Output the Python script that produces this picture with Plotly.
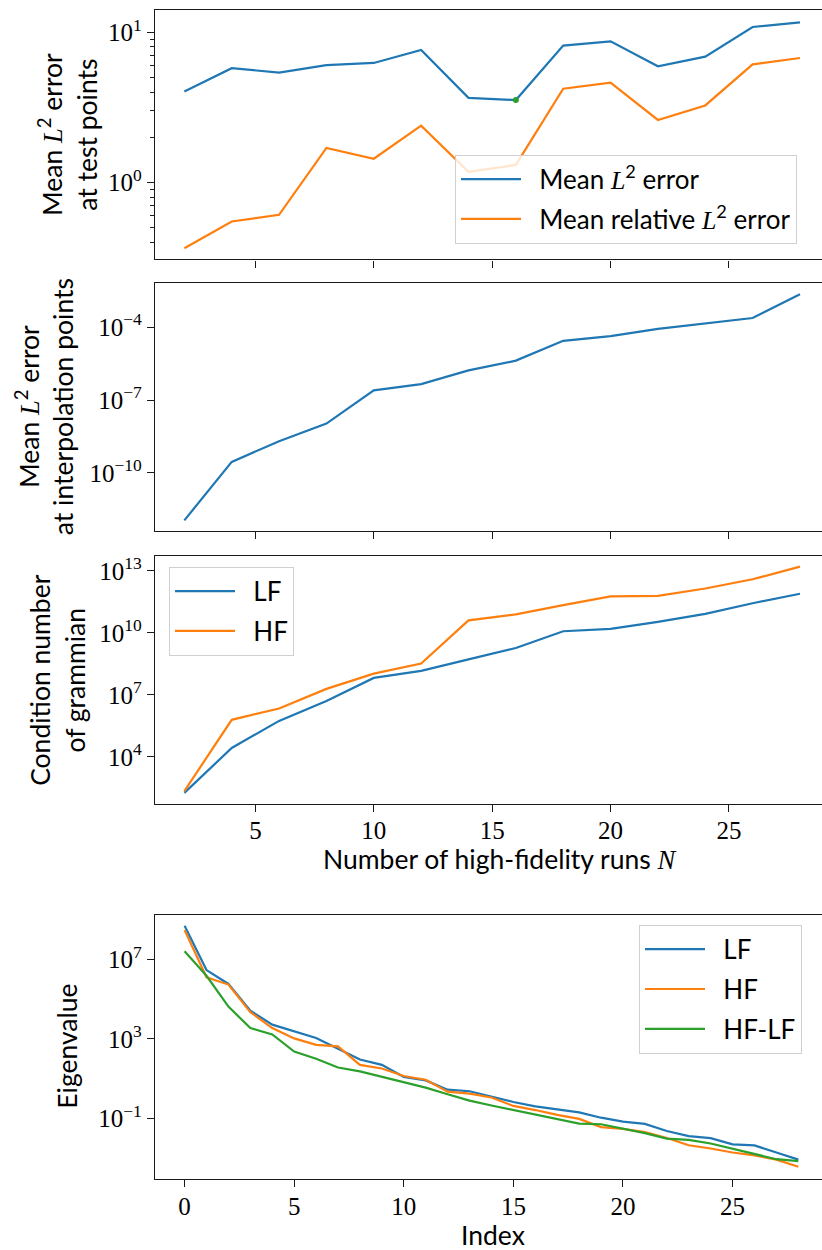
import plotly.graph_objects as go

# ---------------- data ----------------
n_runs = [2, 4, 6, 8, 10, 12, 14, 16, 18, 20, 22, 24, 26, 28]
mean_l2_test = [4.04, 5.77, 5.39, 6.04, 6.25, 7.63, 3.66, 3.54, 8.15, 8.71, 5.94, 6.89, 10.85, 11.65]
mean_rel_l2_test = [0.366, 0.551, 0.610, 1.70, 1.44, 2.39, 1.18, 1.31, 4.21, 4.63, 2.61, 3.26, 6.12, 6.74]
highlight_x = [16]
highlight_y = [3.54]

mean_l2_interp = [1.10e-12, 2.82e-10, 2.0e-9, 1.07e-8, 2.5e-7, 4.5e-7, 1.66e-6, 4.2e-6,
                  2.75e-5, 4.3e-5, 8.5e-5, 1.38e-4, 2.4e-4, 2.3e-3]

cond_lf = [1.8e2, 2.7e4, 5.5e5, 5.1e6, 6.6e7, 1.45e8, 5.2e8, 1.86e9, 1.2e10, 1.55e10,
           3.4e10, 8.3e10, 2.7e11, 7.8e11]
cond_hf = [2.2e2, 6.2e5, 2.2e6, 1.95e7, 1.07e8, 3.3e8, 4.0e10, 7.8e10, 2.2e11, 5.8e11,
           6.2e11, 1.4e12, 3.9e12, 1.6e13]

index = list(range(29))
eig_lf = [4.9e8, 2.9e6, 5.8e5, 2.6e4, 5.2e3, 2.4e3, 1.1e3, 3.2e2, 91, 49, 12, 8.1, 2.75, 2.3,
          1.26, 0.66, 0.40, 0.295, 0.20, 0.107, 0.068, 0.052, 0.023, 0.0126, 0.010, 0.0049,
          0.0043, 0.0019, 0.00083]
eig_hf = [3.0e8, 1.26e6, 5.4e5, 2.2e4, 3.5e3, 1.05e3, 5.0e2, 4.2e2, 49, 32, 13.5, 8.7, 2.2, 1.74,
          1.12, 0.42, 0.26, 0.148, 0.093, 0.036, 0.029, 0.020, 0.0102, 0.0044, 0.0030, 0.0019,
          0.00135, 0.00083, 0.00036]
eig_hflf = [2.6e7, 1.5e6, 4.2e4, 3.5e3, 1.66e3, 2.3e2, 1.0e2, 36, 23, 12, 6.5, 3.5, 1.62, 0.78,
            0.44, 0.26, 0.166, 0.095, 0.054, 0.050, 0.030, 0.018, 0.0095, 0.0081, 0.0054,
            0.0029, 0.0017, 0.00087, 0.00069]

# tick labels
xt_runs = [5, 10, 15, 20, 25]
xt_index = [0, 5, 10, 15, 20, 25]
y1_ticks = [1, 10]
y1_text = ["10<sup>0</sup>", "10<sup>1</sup>"]
y1_minor = [0.4, 0.5, 0.6, 0.7, 0.8, 0.9, 2, 3, 4, 5, 6, 7, 8, 9]
y2_ticks = [1e-10, 1e-7, 1e-4]
y2_text = ["10<sup>\u221210</sup>", "10<sup>\u22127</sup>", "10<sup>\u22124</sup>"]
y3_ticks = [1e4, 1e7, 1e10, 1e13]
y3_text = ["10<sup>4</sup>", "10<sup>7</sup>", "10<sup>10</sup>", "10<sup>13</sup>"]
y4_ticks = [1e-1, 1e3, 1e7]
y4_text = ["10<sup>\u22121</sup>", "10<sup>3</sup>", "10<sup>7</sup>"]

# ---------------- style ----------------
W, H = 822, 1250
BLUE, ORANGE, GREEN = "#1f77b4", "#ff7f0e", "#2ca02c"
SERIF = "Liberation Serif"
SANS = "Lato"
TICKFONT = dict(family=SERIF, size=25, color="black")
LABFONT = dict(family=SANS, size=26.5, color="black")
LEGFONT = dict(family=SANS, size=26, color="black")
LW = 2.2
PAD = "&nbsp;&nbsp;"

def L2():
    return "<span style=\"font-family:'Liberation Serif'\"><i>L</i></span><sup>2</sup>"

def py(v):
    return 1 - v / H

def px(v):
    return v / W

fig = go.Figure()

# panel 1
fig.add_trace(go.Scatter(x=n_runs, y=mean_l2_test, mode="lines", line=dict(color=BLUE, width=LW),
                         name=PAD + "Mean " + L2() + " error", xaxis="x", yaxis="y",
                         legend="legend", legendgroup="a"))
fig.add_trace(go.Scatter(x=n_runs, y=mean_rel_l2_test, mode="lines", line=dict(color=ORANGE, width=LW),
                         name=PAD + "Mean relative " + L2() + " error", xaxis="x", yaxis="y",
                         legend="legend", legendgroup="b"))
fig.add_trace(go.Scatter(x=highlight_x, y=highlight_y, mode="markers",
                         marker=dict(color=GREEN, size=6), showlegend=False, xaxis="x", yaxis="y"))
# panel 2
fig.add_trace(go.Scatter(x=n_runs, y=mean_l2_interp, mode="lines", line=dict(color=BLUE, width=LW),
                         showlegend=False, xaxis="x2", yaxis="y2"))
# panel 3
fig.add_trace(go.Scatter(x=n_runs, y=cond_lf, mode="lines", line=dict(color=BLUE, width=LW),
                         name=PAD + "LF", xaxis="x3", yaxis="y3", legend="legend2", legendgroup="c"))
fig.add_trace(go.Scatter(x=n_runs, y=cond_hf, mode="lines", line=dict(color=ORANGE, width=LW),
                         name=PAD + "HF", xaxis="x3", yaxis="y3", legend="legend2", legendgroup="d"))
# panel 4
fig.add_trace(go.Scatter(x=index, y=eig_lf, mode="lines", line=dict(color=BLUE, width=LW),
                         name=PAD + "LF", xaxis="x4", yaxis="y4", legend="legend3", legendgroup="e"))
fig.add_trace(go.Scatter(x=index, y=eig_hf, mode="lines", line=dict(color=ORANGE, width=LW),
                         name=PAD + "HF", xaxis="x4", yaxis="y4", legend="legend3", legendgroup="f"))
fig.add_trace(go.Scatter(x=index, y=eig_hflf, mode="lines", line=dict(color=GREEN, width=LW),
                         name=PAD + "HF-LF", xaxis="x4", yaxis="y4", legend="legend3", legendgroup="g"))

axcommon = dict(showline=True, linecolor="#1a1a1a", linewidth=1.3, ticks="outside", ticklen=7,
                tickwidth=1.2, tickcolor="#1a1a1a", showgrid=False, zeroline=False,
                tickfont=TICKFONT)

xr_runs = [0.76, 28.93]
xr_index = [-1.35, 29.08]

legcommon = dict(xanchor="left", yanchor="top", font=LEGFONT,
                 bgcolor="rgba(255,255,255,0.8)", bordercolor="#d0d0d0", borderwidth=1,
                 traceorder="grouped", tracegroupgap=3, itemwidth=60)

fig.update_layout(
    width=W, height=H, margin=dict(l=0, r=0, t=0, b=0),
    plot_bgcolor="white", paper_bgcolor="white",
    xaxis=dict(axcommon, domain=[px(155), 1], range=xr_runs, anchor="y", mirror=True,
               tickvals=xt_runs, showticklabels=False),
    yaxis=dict(axcommon, domain=[py(257), py(7.5)], type="log", range=[-0.511, 1.145],
               anchor="x", tickvals=y1_ticks, ticktext=y1_text,
               minor=dict(ticks="outside", ticklen=4, tickwidth=1, tickcolor="#1a1a1a",
                          tickvals=y1_minor)),
    xaxis2=dict(axcommon, domain=[px(155), 1], range=xr_runs, anchor="y2", mirror=True,
                tickvals=xt_runs, showticklabels=False),
    yaxis2=dict(axcommon, domain=[py(529.3), py(281)], type="log", range=[-12.40, -2.19],
                anchor="x2", tickvals=y2_ticks, ticktext=y2_text),
    xaxis3=dict(axcommon, domain=[px(155), 1], range=xr_runs, anchor="y3", mirror=True,
                tickvals=xt_runs, ticklabelstandoff=-3),
    yaxis3=dict(axcommon, domain=[py(802.7), py(554.3)], type="log", range=[1.73, 13.72],
                anchor="x3", tickvals=y3_ticks, ticktext=y3_text),
    xaxis4=dict(axcommon, domain=[px(155), 1], range=xr_index, anchor="y4", mirror=True,
                tickvals=xt_index, ticklabelstandoff=-2),
    yaxis4=dict(axcommon, domain=[py(1178.7), py(913.7)], type="log", range=[-4.05, 9.26],
                anchor="x4", tickvals=y4_ticks, ticktext=y4_text),
    legend=dict(legcommon, x=px(455), y=py(152)),
    legend2=dict(legcommon, x=px(169), y=py(565)),
    legend3=dict(legcommon, x=px(639), y=py(924)),
)

annots = [
    ("Mean " + L2() + " error<br>at test points", 68, (7.5 + 257) / 2, -90),
    ("Mean " + L2() + " error<br>at interpolation points", 45, (281 + 529.3) / 2, -90),
    ("Condition number<br>of grammian", 57, (554.3 + 802.7) / 2, -90),
    ("Eigenvalue", 67, (913.7 + 1178.7) / 2, -90),
    ("Number of high-fidelity runs <span style=\"font-family:'Liberation Serif'\"><i>N</i></span>", 500, 858, 0),
    ("Index", 493, 1235, 0),
]
for text, ax_, ay_, ang in annots:
    fig.add_annotation(text=text, x=px(ax_), y=py(ay_), xref="paper", yref="paper",
                       showarrow=False, textangle=ang, font=LABFONT,
                       xanchor="center", yanchor="middle")

fig.write_html("out.html", config={"displayModeBar": False},
               post_script="document.body.style.margin='0';document.body.style.overflow='hidden';")
